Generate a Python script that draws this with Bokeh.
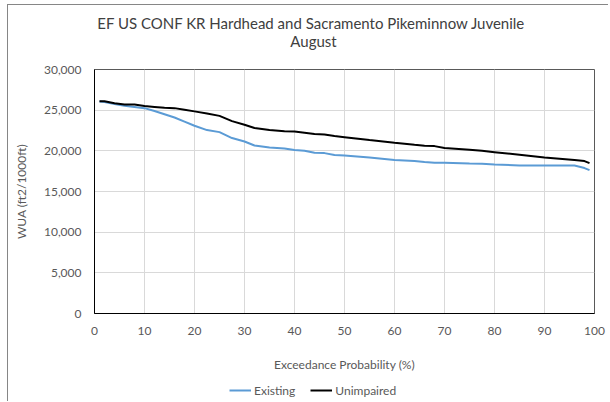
from bokeh.plotting import figure
from bokeh.layouts import column
from bokeh.models import (FixedTicker, NumeralTickFormatter, Legend, LegendItem, Range1d, Label)
from bokeh.embed import file_html
from bokeh.resources import INLINE

# Data
exceedance = [1, 2, 4, 6, 8, 10, 12, 14, 16, 18, 20, 22.5, 25, 27.5, 30, 32, 35, 38, 40,
              42, 44, 46, 48, 50, 55, 60, 64, 66, 68, 70, 75, 77.5, 80, 85, 90, 96, 98, 99]
existing = [26070, 26000, 25750, 25550, 25400, 25250, 24900, 24500, 24100, 23600, 23080,
            22550, 22300, 21570, 21150, 20660, 20410, 20290, 20090, 20000, 19760, 19720,
            19480, 19430, 19180, 18860, 18740, 18620, 18530, 18530, 18440, 18410, 18320,
            18200, 18200, 18200, 17880, 17630]
unimpaired = [26100, 26100, 25850, 25700, 25700, 25500, 25400, 25300, 25250, 25050, 24850,
              24600, 24300, 23650, 23200, 22800, 22550, 22420, 22380, 22220, 22060, 22010,
              21810, 21680, 21320, 20990, 20740, 20620, 20580, 20340, 20130, 20000, 19840,
              19510, 19180, 18860, 18740, 18490]
x_ticks = [0, 10, 20, 30, 40, 50, 60, 70, 80, 90, 100]
y_ticks = [0, 5000, 10000, 15000, 20000, 25000, 30000]
title_lines = ["EF US CONF KR Hardhead and Sacramento Pikeminnow Juvenile", "August"]
x_title = "Exceedance Probability (%)"
y_title = "WUA (ft2/1000ft)"
series_names = ["Existing", "Unimpaired"]
series_colors = ["#5b9bd5", "black"]

FONT = "Lato"
TXT = "#595959"

# Title strip
tf = figure(width=600, height=56, output_backend="svg", toolbar_location=None, title=None,
            x_axis_type=None, y_axis_type=None, x_range=Range1d(0, 1), y_range=Range1d(0, 1),
            min_border=0)
tf.outline_line_color = None
for txt, x, y in ((title_lines[0], 217, 39), (title_lines[1], 219, 21)):
    tf.add_layout(Label(x=x, y=y, x_units="screen", y_units="screen", text=txt,
                        text_font=FONT, text_font_size="15px", text_color="#404040",
                        text_align="center", text_baseline="middle"))

# Main chart
p = figure(width=600, height=316, output_backend="svg", toolbar_location=None, title=None,
           x_range=Range1d(0, 100), y_range=Range1d(0, 30000),
           min_border_left=86, min_border_right=14, min_border_top=8, min_border_bottom=64)
p.outline_line_color = "#595959"
p.outline_line_width = 1

for ax in (p.xaxis[0], p.yaxis[0]):
    ax.axis_line_color = "black"
    ax.major_tick_line_color = None
    ax.minor_tick_line_color = None
    ax.major_tick_out = 0
    ax.major_tick_in = 0
    ax.major_label_text_font = FONT
    ax.major_label_text_font_size = "12px"
    ax.major_label_text_color = TXT
    ax.axis_label_text_font = FONT
    ax.axis_label_text_font_size = "12px"
    ax.axis_label_text_font_style = "normal"
    ax.axis_label_text_color = TXT

p.xaxis.ticker = FixedTicker(ticks=x_ticks)
p.yaxis.ticker = FixedTicker(ticks=y_ticks)
p.yaxis.formatter = NumeralTickFormatter(format="0,0")
p.xaxis.major_label_standoff = 13
p.yaxis.major_label_standoff = 13
p.xaxis.axis_label = x_title
p.yaxis.axis_label = y_title
p.xaxis.axis_label_standoff = 19
p.yaxis.axis_label_standoff = 12

p.xgrid.ticker = FixedTicker(ticks=x_ticks)
p.ygrid.ticker = FixedTicker(ticks=y_ticks)
p.xgrid.grid_line_color = "#d9d9d9"
p.ygrid.grid_line_color = "#d9d9d9"

p.line(exceedance, existing, line_color=series_colors[0], line_width=2)
p.line(exceedance, unimpaired, line_color=series_colors[1], line_width=2)

# Legend strip below the chart
lf = figure(width=600, height=24, output_backend="svg", toolbar_location=None, title=None,
            x_axis_type=None, y_axis_type=None, x_range=Range1d(0, 1), y_range=Range1d(0, 1),
            min_border=0)
lf.outline_line_color = None
nan = float("nan")
k1 = lf.line([nan], [nan], line_color=series_colors[0], line_width=2)
k2 = lf.line([nan], [nan], line_color=series_colors[1], line_width=2)
legend = Legend(items=[LegendItem(label=series_names[0], renderers=[k1]),
                       LegendItem(label=series_names[1], renderers=[k2])],
                orientation="horizontal", location=(135, 1),
                padding=0, margin=0, spacing=15, glyph_width=22, glyph_height=20,
                label_height=20, label_standoff=3,
                label_text_font=FONT, label_text_font_size="12px", label_text_color=TXT,
                border_line_color=None, background_fill_alpha=0)
lf.add_layout(legend, "center")

layout = column(tf, p, lf, spacing=0)
layout.margin = (4, 0, 0, 7)
layout.styles = {"border-left": "1px solid #868686", "border-top": "1px solid #868686"}

open("out.html", "w").write(file_html(layout, INLINE))
